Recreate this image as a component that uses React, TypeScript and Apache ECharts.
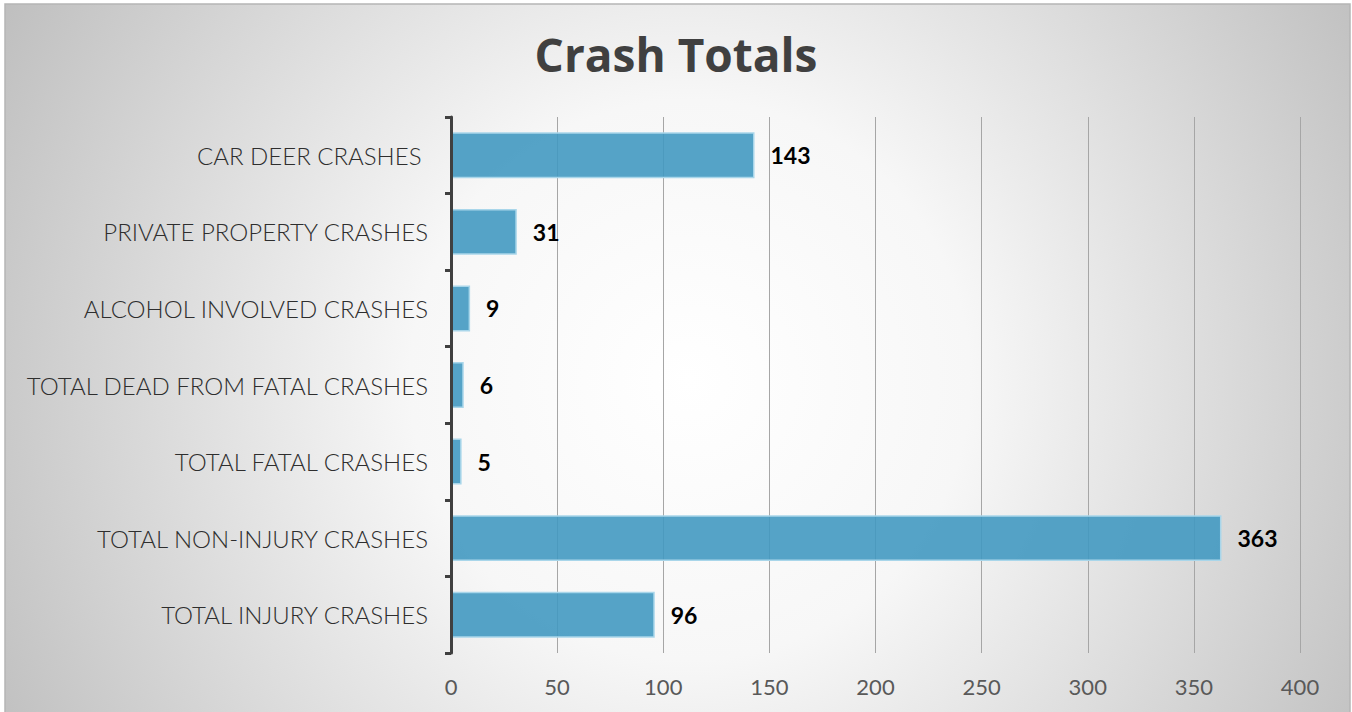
import React, { useEffect, useRef } from "react";
import * as echarts from "echarts";

const categories = [
  "TOTAL INJURY CRASHES",
  "TOTAL NON-INJURY CRASHES",
  "TOTAL FATAL CRASHES",
  "TOTAL DEAD FROM FATAL CRASHES",
  "ALCOHOL INVOLVED CRASHES",
  "PRIVATE PROPERTY CRASHES",
  "CAR DEER CRASHES ",
];
const values = [96, 363, 5, 6, 9, 31, 143];
const xTicks = { min: 0, max: 400, interval: 50 };
const titleText = "Crash Totals";

export default function App() {
  const ref = useRef<HTMLDivElement>(null);
  useEffect(() => {
    if (!ref.current) return;
    const chart = echarts.init(ref.current, undefined, { renderer: "svg" });
    const font = "Lato, 'Open Sans', sans-serif";
    chart.setOption({
      animation: false,
      backgroundColor: "#ffffff",
      graphic: [
        {
          type: "rect",
          z: -10,
          silent: true,
          shape: { x: 5, y: 4, width: 1345, height: 720 },
          style: {
            fill: new echarts.graphic.RadialGradient(690, 380, 800, [
              { offset: 0, color: "#ffffff" },
              { offset: 0.35, color: "#f7f7f7" },
              { offset: 1, color: "#bdbdbd" },
            ], true),
            stroke: "#b5b5b5",
            lineWidth: 1.5,
          },
        },
      ],
      title: {
        text: titleText,
        left: "center",
        top: 26,
        textStyle: { fontFamily: "'Open Sans', sans-serif", fontSize: 46, fontWeight: "bold", color: "#404040" },
      },
      grid: { left: 451, right: 52, top: 117, bottom: 59, containLabel: false },
      xAxis: {
        type: "value",
        min: xTicks.min,
        max: xTicks.max,
        interval: xTicks.interval,
        axisLine: { show: false },
        axisTick: { show: false },
        axisLabel: { fontFamily: font, fontSize: 22, fontWeight: 400, color: "#595959", margin: 22 },
        splitLine: { show: true, lineStyle: { color: "#a6a6a6", width: 1 } },
      },
      yAxis: {
        type: "category",
        data: categories,
        axisLine: { show: true, lineStyle: { color: "#404040", width: 3 } },
        axisTick: { show: true, length: 6, lineStyle: { color: "#404040", width: 3 } },
        axisLabel: { fontFamily: font, fontSize: 24, fontWeight: 300, color: "#2e2e2e", margin: 23 },
        z: 5,
      },
      series: [
        {
          type: "bar",
          data: values,
          barWidth: "60%",
          itemStyle: {
            color: "rgba(66,153,193,0.9)",
            borderColor: "#a9d6ea",
            borderWidth: 1.5,
          },
          label: {
            show: true,
            position: "right",
            distance: 16,
            fontFamily: font,
            fontSize: 23,
            fontWeight: "bold",
            color: "#000000",
          },
        },
      ],
    });
    return () => chart.dispose();
  }, []);
  return (
    <div
      ref={ref}
      style={{ position: "fixed", left: 0, top: 0, width: 1352, height: 712 }}
    />
  );
}
